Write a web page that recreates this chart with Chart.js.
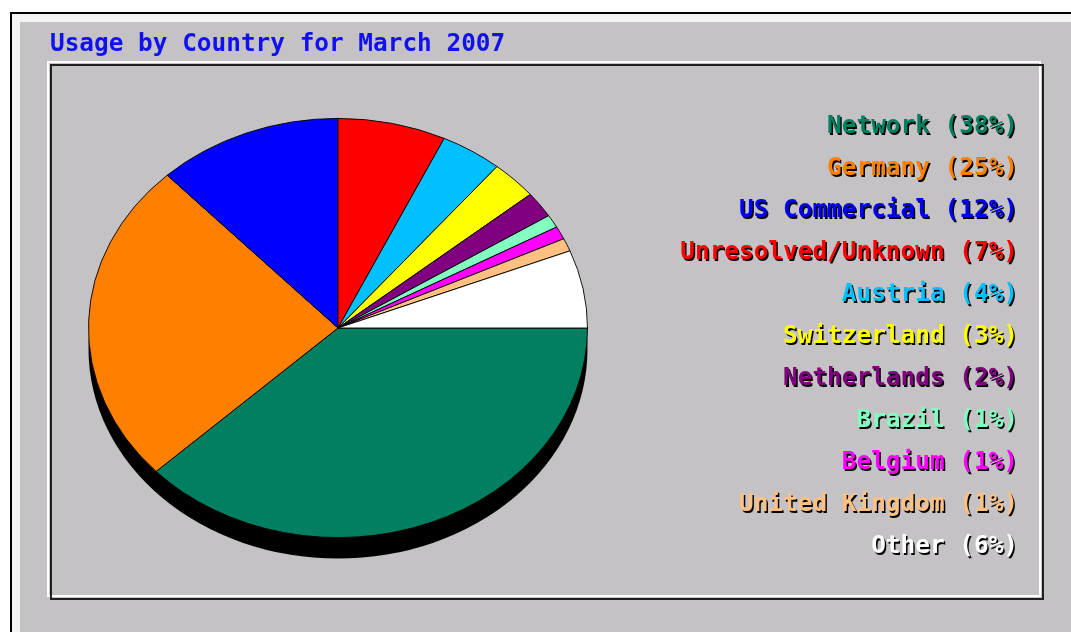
<!DOCTYPE html>
<html>
<head>
<meta charset="utf-8">
<script src="https://cdn.jsdelivr.net/npm/chart.js@4"></script>
<style>
  html, body { margin: 0; padding: 0; background: #fff; overflow: hidden; }
  #wrap { width: 1071px; height: 632px; }
</style>
</head>
<body>
<div id="wrap"><canvas id="chartCountry"></canvas></div>
<script>
// dados do gráfico
const TITLE = 'Usage by Country for March 2007';
const countries = ['Network', 'Germany', 'US Commercial', 'Unresolved/Unknown', 'Austria',
    'Switzerland', 'Netherlands', 'Brazil', 'Belgium', 'United Kingdom', 'Other'];
const percents = [38, 25, 12, 7, 4, 3, 2, 1, 1, 1, 6];
const colors = ['#008060', '#ff8000', '#0000ff', '#ff0000', '#00c0ff',
    '#ffff00', '#800080', '#80ffc0', '#ff00ff', '#ffc080', '#ffffff'];

const FONT = 'bold 24.4px "DejaVu Sans Mono", "Liberation Mono", monospace';
const SQUASH = 0.84;      // pizza em elipse
const DEPTH = 21;         // sombra 3D

// fundo, molduras e título
const backdrop = {
    id: 'backdrop',
    beforeDraw(chart) {
        const { ctx, width, height } = chart;
        ctx.save();
        ctx.fillStyle = '#ffffff';
        ctx.fillRect(0, 0, width, height);
        ctx.fillStyle = '#c4c2c5';
        ctx.fillRect(10, 12, width, height);
        // borda clara interna
        ctx.fillStyle = '#f4f4f4';
        ctx.fillRect(12, 14, width, 8);
        ctx.fillRect(12, 14, 8, height);
        ctx.fillStyle = '#000';
        ctx.fillRect(10, 12, width, 2);
        ctx.fillRect(10, 12, 2, height);

        ctx.lineWidth = 2;
        ctx.strokeStyle = '#ffffff';
        ctx.strokeRect(48, 62, 992, 534);
        ctx.strokeStyle = '#202020';
        ctx.strokeRect(51, 65, 992, 534);

        ctx.font = FONT;
        ctx.textBaseline = 'middle';
        ctx.textAlign = 'left';
        ctx.fillStyle = '#1010f0';
        ctx.fillText(TITLE, 50, 45);
        ctx.restore();
    }
};

// achata a pizza e desenha a sombra
const squash = {
    id: 'squash',
    beforeDatasetsDraw(chart) {
        const arc = chart.getDatasetMeta(0).data[0];
        if (!arc) return;
        const { ctx } = chart;
        const cx = arc.x, cy = arc.y, r = arc.outerRadius;
        ctx.save();
        ctx.fillStyle = '#000';
        ctx.beginPath();
        ctx.ellipse(cx, cy + DEPTH, r, r * SQUASH, 0, 0, Math.PI * 2);
        ctx.fill();
        ctx.translate(cx, cy);
        ctx.scale(1, SQUASH);
        ctx.translate(-cx, -cy);
    },
    afterDatasetsDraw(chart) {
        chart.ctx.restore();
    }
};

// legenda alinhada à direita, texto colorido com sombra
const sideLegend = {
    id: 'sideLegend',
    afterDraw(chart) {
        const { ctx } = chart;
        const labels = chart.data.labels;
        const ds = chart.data.datasets[0];
        ctx.save();
        ctx.font = FONT;
        ctx.textAlign = 'right';
        ctx.textBaseline = 'middle';
        labels.forEach((label, i) => {
            const txt = `${label} (${ds.data[i]}%)`;
            const y = 127 + i * 42;
            ctx.fillStyle = '#000';
            ctx.fillText(txt, 1019.5, y + 1.5);
            ctx.fillStyle = ds.backgroundColor[i];
            ctx.fillText(txt, 1018, y);
        });
        ctx.restore();
    }
};

new Chart(document.getElementById('chartCountry'), {
    type: 'pie',
    data: {
        labels: countries,
        datasets: [{
            data: percents,
            backgroundColor: colors,
            borderColor: '#000',
            borderWidth: 1
        }]
    },
    options: {
        responsive: true,
        maintainAspectRatio: false,
        animation: false,
        rotation: 90,
        layout: { padding: { left: 88, right: 483, top: 78, bottom: 54 } },
        plugins: {
            legend: { display: false },
            title: { display: false },
            tooltip: { enabled: false }
        }
    },
    plugins: [backdrop, squash, sideLegend]
});
</script>
</body>
</html>
